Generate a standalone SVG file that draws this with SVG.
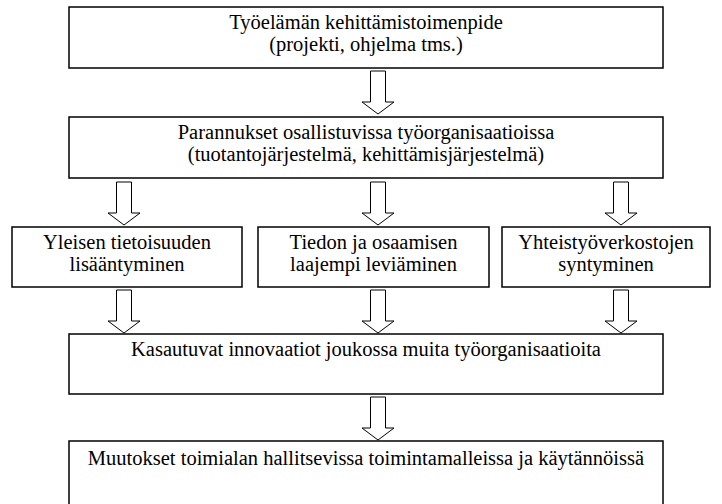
<svg xmlns="http://www.w3.org/2000/svg" width="722" height="504" viewBox="0 0 722 504">
<style>
.box{fill:#fff;stroke:#000;stroke-width:1.5}
.arr{fill:#fff;stroke:#000;stroke-width:1}
.t{font-family:'Liberation Serif','Times New Roman',serif;font-size:20.5px;fill:#000;text-anchor:middle}
</style>
<defs>
<path id="arrow" class="arr" d="M-7.5,0 H7.5 V31 H16 L0,43 L-16,31 H-7.5 Z"/>
</defs>
<rect width="722" height="504" fill="#fff"/>
<g id="n1"><rect class="box" x="69" y="7" width="594" height="61"/>
<text class="t" x="366" y="29">Työelämän kehittämistoimenpide</text>
<text class="t" x="366" y="51">(projekti, ohjelma tms.)</text></g>
<g id="n2"><rect class="box" x="69" y="117" width="594" height="61"/>
<text class="t" x="366" y="139">Parannukset osallistuvissa työorganisaatioissa</text>
<text class="t" x="366" y="161">(tuotantojärjestelmä, kehittämisjärjestelmä)</text></g>
<g id="n3"><rect class="box" x="12" y="227" width="230" height="60"/>
<text class="t" x="127" y="249">Yleisen tietoisuuden</text>
<text class="t" x="127" y="271">lisääntyminen</text></g>
<g id="n4"><rect class="box" x="258" y="227" width="231" height="60"/>
<text class="t" x="373.5" y="249">Tiedon ja osaamisen</text>
<text class="t" x="373.5" y="271">laajempi leviäminen</text></g>
<g id="n5"><rect class="box" x="502" y="227" width="208" height="60"/>
<text class="t" x="606" y="249">Yhteistyöverkostojen</text>
<text class="t" x="606" y="271">syntyminen</text></g>
<g id="n6"><rect class="box" x="69" y="334" width="594" height="60"/>
<text class="t" x="366" y="356">Kasautuvat innovaatiot joukossa muita työorganisaatioita</text></g>
<g id="n7"><rect class="box" x="69" y="441" width="594" height="80"/>
<text class="t" x="366" y="465">Muutokset toimialan hallitsevissa toimintamalleissa ja käytännöissä</text></g>
<g id="connectors">
<use href="#arrow" x="378" y="71"/>
<use href="#arrow" x="124" y="182"/>
<use href="#arrow" x="378" y="182"/>
<use href="#arrow" x="621" y="182"/>
<use href="#arrow" x="124" y="290"/>
<use href="#arrow" x="378" y="290"/>
<use href="#arrow" x="621" y="290"/>
<use href="#arrow" x="378" y="397"/>
</g>
</svg>
